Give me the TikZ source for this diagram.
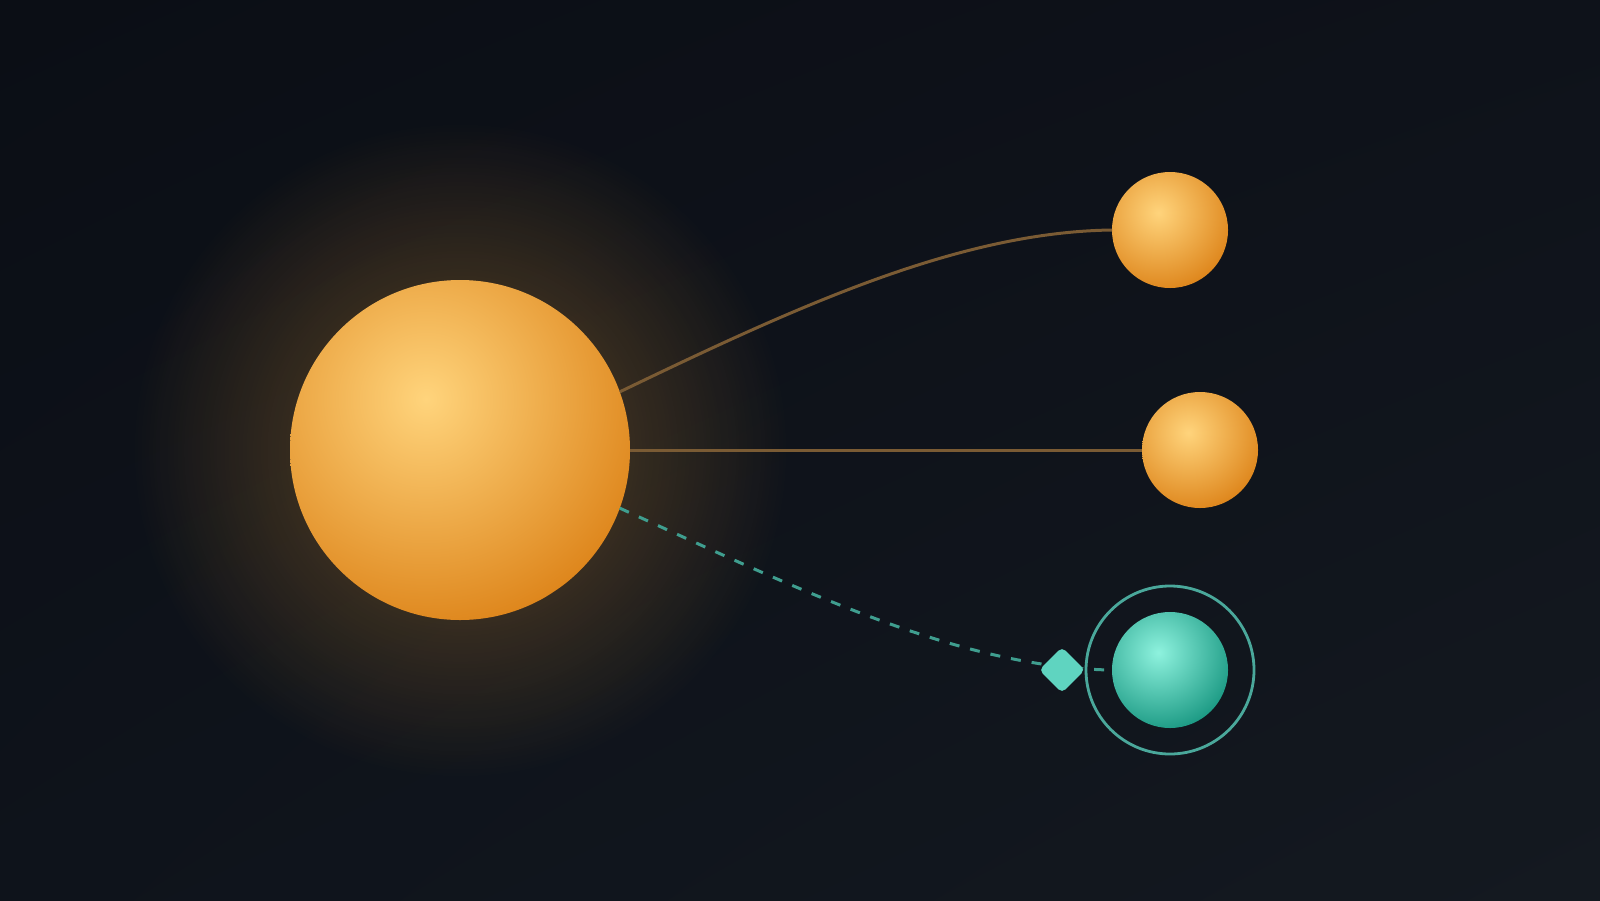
\documentclass[tikz,border=0pt]{standalone}
\usepackage{tikz}
\usetikzlibrary{calc,shapes.geometric,fadings,shadings}

\definecolor{bgtl}{HTML}{0B0E15}
\definecolor{bgtr}{HTML}{0E121A}
\definecolor{bgbl}{HTML}{0E131B}
\definecolor{bgbr}{HTML}{141920}
\definecolor{glowcol}{HTML}{F2A43A}
\definecolor{goldhi}{HTML}{FFD47C}
\definecolor{goldlo}{HTML}{DE861C}
\definecolor{tealhi}{HTML}{8EF2DE}
\definecolor{teallo}{HTML}{1C9A84}
\definecolor{linecol}{HTML}{7A5B34}
\definecolor{dashcol}{HTML}{3F9E8F}
\definecolor{ringcol}{HTML}{4AA89B}
\definecolor{gatecol}{HTML}{5FD4C0}

\pgfdeclareradialshading{goldshade}{\pgfpoint{0bp}{0bp}}{color(0bp)=(goldhi); color(25bp)=(goldlo); color(50bp)=(goldlo)}
\pgfdeclareradialshading{tealshade}{\pgfpoint{0bp}{0bp}}{color(0bp)=(tealhi); color(25bp)=(teallo); color(50bp)=(teallo)}
\pgfdeclareradialshading{glowmask}{\pgfpoint{0bp}{0bp}}{color(0bp)=(white); color(25bp)=(black); color(50bp)=(black)}
\pgfdeclarefading{sunglow}{\pgfuseshading{glowmask}}

\tikzset{
	ball/.style={shape=circle,inner sep=0pt,outer sep=0pt},
	goldball/.style={ball,minimum size=#1,path picture={
		\shade[shading=goldshade] ($(path picture bounding box.center)+(-0.1*#1,0.15*#1)$) circle (0.68*#1);}},
	tealball/.style={ball,minimum size=#1,path picture={
		\shade[shading=tealshade] ($(path picture bounding box.center)+(-0.1*#1,0.15*#1)$) circle (0.68*#1);}},
	orbitring/.style={ball,draw=ringcol,line width=2.8pt},
	goldline/.style={draw=linecol,line width=3pt},
	tealdash/.style={draw=dashcol,line width=3pt,dash pattern=on 10pt off 11pt},
	gatebox/.style={shape=diamond,aspect=1,inner sep=0pt,minimum size=46pt,rounded corners=5pt,fill=gatecol}
}

\begin{document}
\begin{tikzpicture}[x=1pt,y=-1pt]
			\def \bigd {340pt}
			\def \smalld {116pt}
			\def \ringd {168pt}
			
			%background
			\useasboundingbox (0,0) rectangle (1600,900);
			\shade[upper left=bgtl,upper right=bgtr,lower left=bgbl,lower right=bgbr] (0,0) rectangle (1600,900);
			
			%glow round the sun
			\coordinate (core) at (460,450);
			\fill[glowcol,fill opacity=0.36,path fading=sunglow] (core) circle (330pt);
			
			%sun and planets
			\node[goldball=\bigd] (sun) at (core) {};
			\node[goldball=\smalld] (outer) at (1170,230) {};
			\node[goldball=\smalld] (middle) at (1200,450) {};
			\node[tealball=\smalld] (moon) at (1170,670) {};
			\node[orbitring,minimum size=\ringd] (ring) at (moon) {};
			
			%connectors
			\draw[goldline] (sun.20) .. controls (800,305) and (960,232) .. (outer.west);
			\draw[goldline] (sun.east) -- (middle.west);
			\draw[tealdash] (sun.-20) .. controls (800,590) and (960,668) .. (moon.west);
			
			%marker on the dashed path
			\node[gatebox] (gate) at (1062,670) {};
\end{tikzpicture}
\end{document}
